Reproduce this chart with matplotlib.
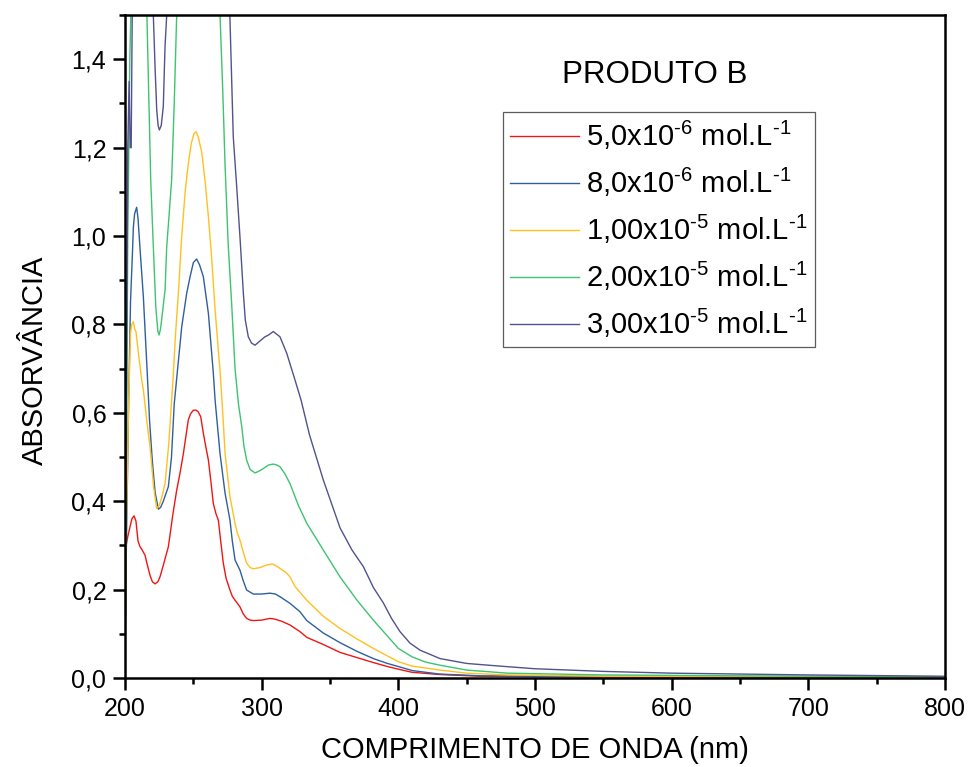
import matplotlib
matplotlib.use("Agg")
import matplotlib.pyplot as plt
from matplotlib.ticker import MultipleLocator, FuncFormatter

plt.rcParams['font.family'] = ['Liberation Sans', 'DejaVu Sans']
plt.rcParams['mathtext.fontset'] = 'custom'
plt.rcParams['mathtext.rm'] = 'Liberation Sans'
plt.rcParams['mathtext.it'] = 'Liberation Sans:italic'
plt.rcParams['mathtext.default'] = 'regular'

# UV-Vis absorbance spectra, wavelength (nm) vs absorbance
wl_5e6 = [200, 200.8, 202, 203.5, 205, 206.6, 208, 209.5, 211, 212.5, 214.6, 216, 218.3, 220,
          222, 224, 225.6, 228, 231.7, 235, 237.8, 240.2, 242.7, 246.3, 248, 250, 252, 253.6,
          255.4, 257.3, 259, 261, 263, 264.6, 266.5, 268.3, 270, 271.9, 274, 276.8, 278.5,
          280.5, 282, 284.1, 286.5, 289, 291.5, 293.9, 300, 306.1, 310, 315, 320.7, 328, 333,
          345, 357.3, 370, 381.7, 392, 400, 410, 430, 460, 500, 600, 700, 800]
abs_5e6 = [0.03, 0.30, 0.32, 0.34, 0.36, 0.367, 0.355, 0.31, 0.297, 0.29, 0.278, 0.26, 0.232,
           0.218, 0.213, 0.218, 0.229, 0.255, 0.297, 0.37, 0.425, 0.463, 0.508, 0.584, 0.598,
           0.606, 0.606, 0.602, 0.591, 0.554, 0.525, 0.493, 0.44, 0.395, 0.372, 0.357, 0.31,
           0.26, 0.225, 0.199, 0.185, 0.176, 0.17, 0.161, 0.145, 0.135, 0.131, 0.13, 0.131,
           0.135, 0.133, 0.128, 0.12, 0.105, 0.092, 0.076, 0.058, 0.046, 0.035, 0.026, 0.02,
           0.013, 0.008, 0.004, 0.003, 0.002, 0.002, 0.001]

wl_8e6 = [200, 201, 202.5, 204, 205.6, 206.1, 207, 208.5, 209.5, 211, 213.4, 215.9, 218, 220,
          222, 224.4, 226, 228, 231.7, 234, 236, 238.5, 241.5, 245.1, 247.6, 250, 252.4, 254.5,
          257.3, 261, 264.6, 265.9, 269.5, 273.2, 276.8, 278.5, 280.5, 284.1, 286.5, 289,
          293.9, 300, 306.1, 310, 313.4, 320.7, 328, 333, 345, 357.3, 370, 381.7, 392, 400,
          410, 430, 460, 500, 600, 700, 800]
abs_8e6 = [0.04, 0.30, 0.6, 0.85, 0.976, 1.02, 1.05, 1.065, 1.04, 0.97, 0.863, 0.712, 0.58,
           0.49, 0.42, 0.382, 0.386, 0.40, 0.433, 0.5, 0.62, 0.70, 0.795, 0.87, 0.908, 0.94,
           0.948, 0.935, 0.908, 0.825, 0.69, 0.629, 0.508, 0.418, 0.357, 0.31, 0.267, 0.244,
           0.22, 0.199, 0.19, 0.19, 0.192, 0.19, 0.184, 0.169, 0.15, 0.13, 0.102, 0.08, 0.06,
           0.044, 0.033, 0.026, 0.017, 0.009, 0.005, 0.004, 0.003, 0.002, 0.002]

wl_1e5 = [200, 201, 202.5, 204, 205, 206.1, 207, 208, 209.8, 212.2, 213.4, 216, 218.3, 221,
          223.1, 225, 227, 229.3, 232, 235, 237, 239, 241.5, 244, 246.3, 248.5, 250.5, 252,
          253.5, 256.1, 258.5, 261, 263.4, 266, 268.3, 269.5, 271.5, 273.2, 276.8, 280.5, 282,
          284.1, 286.5, 289, 291.5, 293.9, 298.8, 303, 307.3, 310, 313.4, 318, 320.7, 324.4,
          333, 345, 357.3, 370, 381.7, 392, 400, 410, 430.5, 450, 480, 550, 700, 800]
abs_1e5 = [0.05, 0.35, 0.6, 0.78, 0.80, 0.806, 0.79, 0.784, 0.735, 0.674, 0.652, 0.58, 0.523,
           0.43, 0.384, 0.39, 0.41, 0.44, 0.53, 0.67, 0.78, 0.87, 1.0, 1.1, 1.164, 1.21, 1.232,
           1.236, 1.225, 1.19, 1.127, 1.044, 0.95, 0.83, 0.74, 0.697, 0.6, 0.508, 0.41, 0.35,
           0.33, 0.312, 0.285, 0.26, 0.25, 0.247, 0.25, 0.255, 0.258, 0.255, 0.248, 0.238,
           0.229, 0.207, 0.176, 0.14, 0.112, 0.088, 0.067, 0.05, 0.037, 0.027, 0.018, 0.011,
           0.007, 0.004, 0.003, 0.002]

wl_2e5 = [200, 201, 202, 203.5, 205, 207, 210, 213, 216, 218.8, 220.7, 222.5, 224, 224.9, 226,
          227.5, 229.3, 230.5, 232.3, 234.1, 236, 237.8, 242, 250, 260, 269.5, 271.5, 273.2,
          275.5, 278, 280.5, 283, 285.4, 287, 289, 291.5, 295.1, 298, 301.2, 305, 308.5, 311,
          313.4, 317, 320.7, 326.8, 333, 345, 357.3, 370, 381.7, 392, 400, 410, 420, 430.5,
          450, 480, 550, 650, 800]
abs_2e5 = [0.06, 0.5, 1.0, 1.4, 1.6, 1.9, 2.0, 1.8, 1.5, 1.127, 0.976, 0.84, 0.785, 0.776,
           0.79, 0.83, 0.878, 0.976, 1.05, 1.127, 1.3, 1.5, 1.8, 2.1, 2.0, 1.5, 1.33, 1.16,
           0.98, 0.848, 0.70, 0.62, 0.569, 0.525, 0.493, 0.472, 0.464, 0.468, 0.474, 0.482,
           0.484, 0.482, 0.478, 0.462, 0.44, 0.391, 0.35, 0.29, 0.229, 0.175, 0.131, 0.095,
           0.067, 0.048, 0.036, 0.029, 0.018, 0.011, 0.007, 0.005, 0.003]

wl_3e5 = [200, 201, 202, 203, 203.8, 204.5, 205.5, 208, 212, 216, 220.7, 222, 223.2, 224.2,
          225.1, 226.5, 228, 228.8, 229.3, 230.5, 235, 250, 265, 276.8, 279.2, 281.7, 284.1,
          286.6, 288, 290.2, 292.5, 295.1, 298.5, 302.4, 305, 308.5, 310.5, 313.4, 318.3,
          324.4, 328.8, 335, 345.1, 357.3, 366, 374.4, 381.7, 389, 395, 401.2, 408.5, 415.9,
          430.5, 450, 470, 500, 550, 600, 700, 800]
abs_3e5 = [0.1, 0.6, 1.2, 1.35, 1.2, 1.2, 1.6, 2.2, 2.4, 2.0, 1.5, 1.38, 1.285, 1.25, 1.24,
           1.25, 1.293, 1.38, 1.43, 1.5, 2.0, 2.8, 2.5, 1.489, 1.225, 1.112, 0.998, 0.87, 0.81,
           0.772, 0.758, 0.753, 0.762, 0.772, 0.776, 0.784, 0.779, 0.772, 0.735, 0.674, 0.629,
           0.55, 0.448, 0.34, 0.29, 0.252, 0.205, 0.17, 0.135, 0.105, 0.079, 0.063, 0.044,
           0.033, 0.028, 0.021, 0.015, 0.011, 0.007, 0.004]

labels = [r'5,0x10$^{\text{-6}}$ mol.L$^{\text{-1}}$', r'8,0x10$^{\text{-6}}$ mol.L$^{\text{-1}}$',
          r'1,00x10$^{\text{-5}}$ mol.L$^{\text{-1}}$', r'2,00x10$^{\text{-5}}$ mol.L$^{\text{-1}}$',
          r'3,00x10$^{\text{-5}}$ mol.L$^{\text{-1}}$']
colors = ['#f01515', '#2f5f9e', '#ffc020', '#3cc46e', '#52528f']

fig = plt.figure(figsize=(9.7, 7.67), dpi=100)
ax = fig.add_axes([0.1289, 0.1160, 0.8453, 0.8644])

series = [(wl_5e6, abs_5e6), (wl_8e6, abs_8e6), (wl_1e5, abs_1e5),
          (wl_2e5, abs_2e5), (wl_3e5, abs_3e5)]
for (x, y), lab, c in zip(series, labels, colors):
    ax.plot(x, y, color=c, lw=1.0, label=lab)

ax.set_xlim(200, 800)
ax.set_ylim(0, 1.5)
ax.xaxis.set_major_locator(MultipleLocator(100))
ax.xaxis.set_minor_locator(MultipleLocator(50))
ax.yaxis.set_major_locator(MultipleLocator(0.2))
ax.yaxis.set_minor_locator(MultipleLocator(0.1))
ax.yaxis.set_major_formatter(FuncFormatter(lambda v, p: f'{v:.1f}'.replace('.', ',')))
ax.tick_params(which='both', direction='out', width=1.8, labelsize=18, top=False, right=False)
ax.tick_params(which='major', length=8.5, pad=5)
ax.tick_params(which='minor', length=4.5)
for s in ax.spines.values():
    s.set_linewidth(1.8)

ax.set_xlabel('COMPRIMENTO DE ONDA (nm)', fontsize=21, labelpad=11)
ax.set_ylabel('ABSORVÂNCIA', fontsize=21)
ax.yaxis.set_label_coords(-0.093, 0.479)

ax.text(0.646, 0.9095, 'PRODUTO B', transform=ax.transAxes, ha='center', va='center',
        fontsize=22.5)

leg = ax.legend(loc='upper left', bbox_to_anchor=(503 / 970, 1 - 112 / 767),
                bbox_transform=fig.transFigure, fontsize=21, frameon=True, fancybox=False,
                handlelength=2.35, handletextpad=0.25, borderpad=0.25, labelspacing=0.47,
                borderaxespad=0)
leg.get_frame().set_edgecolor('#333333')
leg.get_frame().set_linewidth(0.9)

fig.savefig('out.png', dpi=100)
